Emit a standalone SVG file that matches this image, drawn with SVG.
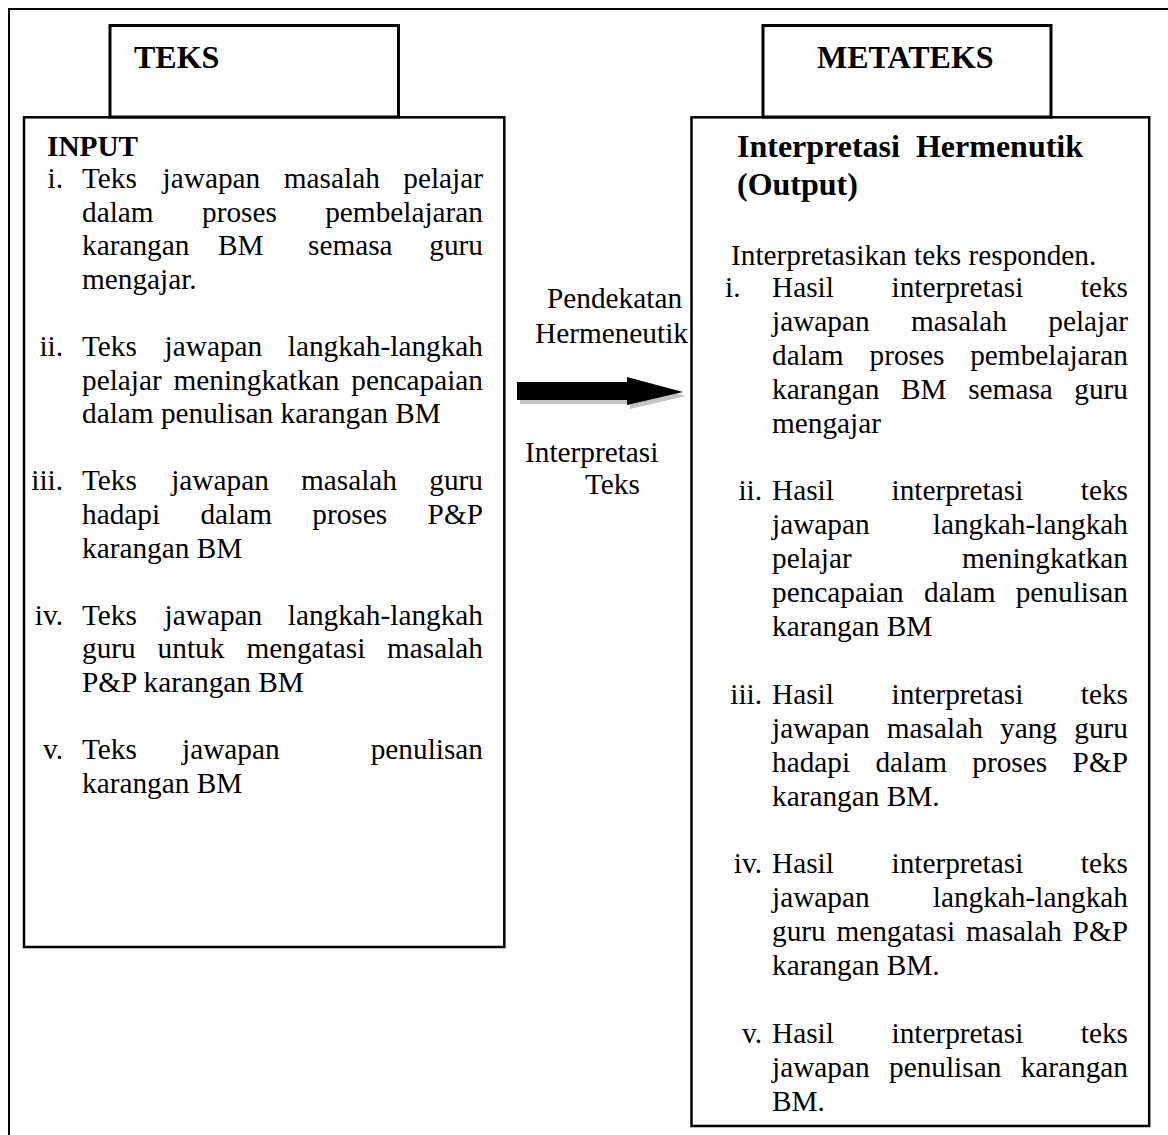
<svg xmlns="http://www.w3.org/2000/svg" width="1168" height="1135" viewBox="0 0 1168 1135">
<style>
text{font-family:"Liberation Serif","Times New Roman",serif;font-size:29.3px;fill:#000}
.b{font-weight:bold}
.h{font-weight:bold;font-size:32px}
.box{fill:none;stroke:#000;stroke-width:2.5}
.tbox{fill:#fff;stroke:#000;stroke-width:3}
.e{text-anchor:end}
</style>
<rect width="1168" height="1135" fill="#fff"/>
<path d="M9,1135 V9 H1168" fill="none" stroke="#000" stroke-width="2"/>

<g id="teks">
<rect class="tbox" x="110" y="25.5" width="288.5" height="91.5"/>
<text class="h" x="134" y="68">TEKS</text>
</g>

<g id="metateks">
<rect class="tbox" x="763" y="25.5" width="288" height="91.5"/>
<text class="h" x="817" y="68">METATEKS</text>
</g>

<g id="input">
<rect class="box" x="24" y="117.3" width="480.3" height="829.7"/>
<text class="b" x="47" y="156">INPUT</text>
<text class="e" x="63" y="188">i.</text>
<text y="188"><tspan x="82">Teks</tspan><tspan x="162.6">jawapan</tspan><tspan x="283.8">masalah</tspan><tspan x="483" class="e">pelajar</tspan></text>
<text y="221.6"><tspan x="82">dalam</tspan><tspan x="202">proses</tspan><tspan x="483" class="e">pembelajaran</tspan></text>
<text y="255.2"><tspan x="82">karangan</tspan><tspan x="218">BM</tspan><tspan x="308">semasa</tspan><tspan x="483" class="e">guru</tspan></text>
<text x="82" y="288.8">mengajar.</text>
<text class="e" x="63" y="356">ii.</text>
<text y="356"><tspan x="82">Teks</tspan><tspan x="164.6">jawapan</tspan><tspan x="483" class="e">langkah-langkah</tspan></text>
<text y="389.6"><tspan x="82">pelajar</tspan><tspan x="173.5">meningkatkan</tspan><tspan x="483" class="e">pencapaian</tspan></text>
<text x="82" y="423.2">dalam penulisan karangan BM</text>
<text class="e" x="63" y="490.4">iii.</text>
<text y="490.4"><tspan x="82">Teks</tspan><tspan x="171.2">jawapan</tspan><tspan x="301">masalah</tspan><tspan x="483" class="e">guru</tspan></text>
<text y="524"><tspan x="82">hadapi</tspan><tspan x="200.4">dalam</tspan><tspan x="312.3">proses</tspan><tspan x="483" class="e">P&amp;P</tspan></text>
<text x="82" y="557.6">karangan BM</text>
<text class="e" x="63" y="624.8">iv.</text>
<text y="624.8"><tspan x="82">Teks</tspan><tspan x="164.6">jawapan</tspan><tspan x="483" class="e">langkah-langkah</tspan></text>
<text y="658.4"><tspan x="82">guru</tspan><tspan x="157.6">untuk</tspan><tspan x="246.5">mengatasi</tspan><tspan x="483" class="e">masalah</tspan></text>
<text x="82" y="692">P&amp;P karangan BM</text>
<text class="e" x="63" y="759.2">v.</text>
<text y="759.2"><tspan x="82">Teks</tspan><tspan x="182">jawapan</tspan><tspan x="483" class="e">penulisan</tspan></text>
<text x="82" y="792.8">karangan BM</text>
</g>

<g id="output">
<rect class="box" x="691.5" y="117.3" width="457.7" height="1008.7"/>
<text class="h" x="737" y="157">Interpretasi&#160; Hermenutik</text>
<text class="h" x="737" y="195">(Output)</text>
<text x="731" y="265">Interpretasikan teks responden.</text>
<text x="725" y="297">i.</text>
<text y="297"><tspan x="772">Hasil</tspan><tspan x="891.5">interpretasi</tspan><tspan x="1128" class="e">teks</tspan></text>
<text y="330.9"><tspan x="772">jawapan</tspan><tspan x="911">masalah</tspan><tspan x="1128" class="e">pelajar</tspan></text>
<text y="364.8"><tspan x="772">dalam</tspan><tspan x="869.5">proses</tspan><tspan x="1128" class="e">pembelajaran</tspan></text>
<text y="398.7"><tspan x="772">karangan</tspan><tspan x="901">BM</tspan><tspan x="968.2">semasa</tspan><tspan x="1128" class="e">guru</tspan></text>
<text x="772" y="432.6">mengajar</text>
<text class="e" x="762" y="500.4">ii.</text>
<text y="500.4"><tspan x="772">Hasil</tspan><tspan x="891.5">interpretasi</tspan><tspan x="1128" class="e">teks</tspan></text>
<text y="534.3"><tspan x="772">jawapan</tspan><tspan x="1128" class="e">langkah-langkah</tspan></text>
<text y="568.2"><tspan x="772">pelajar</tspan><tspan x="1128" class="e">meningkatkan</tspan></text>
<text y="602.1"><tspan x="772">pencapaian</tspan><tspan x="924">dalam</tspan><tspan x="1128" class="e">penulisan</tspan></text>
<text x="772" y="636">karangan BM</text>
<text class="e" x="762" y="703.8">iii.</text>
<text y="703.8"><tspan x="772">Hasil</tspan><tspan x="891.5">interpretasi</tspan><tspan x="1128" class="e">teks</tspan></text>
<text y="737.7"><tspan x="772">jawapan</tspan><tspan x="886.8">masalah</tspan><tspan x="1000">yang</tspan><tspan x="1128" class="e">guru</tspan></text>
<text y="771.6"><tspan x="772">hadapi</tspan><tspan x="875.4">dalam</tspan><tspan x="972.3">proses</tspan><tspan x="1128" class="e">P&amp;P</tspan></text>
<text x="772" y="805.5">karangan BM.</text>
<text class="e" x="762" y="873.3">iv.</text>
<text y="873.3"><tspan x="772">Hasil</tspan><tspan x="891.5">interpretasi</tspan><tspan x="1128" class="e">teks</tspan></text>
<text y="907.2"><tspan x="772">jawapan</tspan><tspan x="1128" class="e">langkah-langkah</tspan></text>
<text y="941.1"><tspan x="772">guru</tspan><tspan x="836.4">mengatasi</tspan><tspan x="965.9">masalah</tspan><tspan x="1128" class="e">P&amp;P</tspan></text>
<text x="772" y="975">karangan BM.</text>
<text class="e" x="762" y="1042.8">v.</text>
<text y="1042.8"><tspan x="772">Hasil</tspan><tspan x="891.5">interpretasi</tspan><tspan x="1128" class="e">teks</tspan></text>
<text y="1076.7"><tspan x="772">jawapan</tspan><tspan x="889">penulisan</tspan><tspan x="1128" class="e">karangan</tspan></text>
<text x="772" y="1110.6">BM.</text>
</g>

<g id="connectors">
<polygon points="520,386 630,386 630,381 686,396 630,409 630,404 520,404" fill="#c4c4c4"/>
<polygon points="517,382 627,382 627,377 683,392 627,405 627,400 517,400" fill="#000"/>
<text x="547" y="308">Pendekatan</text>
<text x="535" y="343">Hermeneutik</text>
<text x="525" y="462">Interpretasi</text>
<text x="585" y="494">Teks</text>
</g>
</svg>
